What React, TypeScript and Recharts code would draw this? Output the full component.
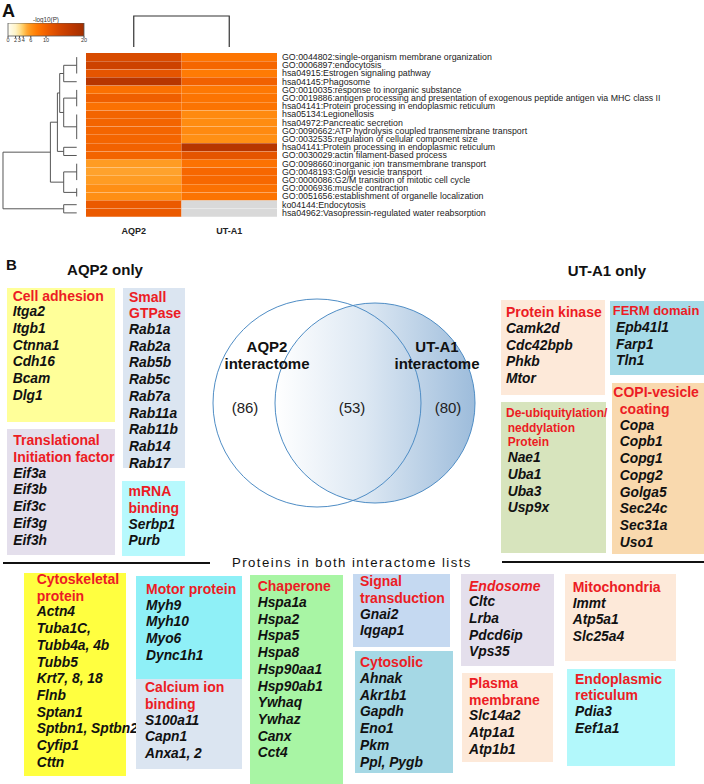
import React from "react";
import { BarChart, Bar, Cell, XAxis, YAxis, ScatterChart, Scatter } from "recharts";

const FONT = '"Liberation Sans", Arial, Helvetica, sans-serif';
const RED = "#ec1c24";

// ---- panel A: enrichment heatmap (-log10 P) ----
const terms = [
  "GO:0044802:single-organism membrane organization",
  "GO:0006897:endocytosis",
  "hsa04915:Estrogen signaling pathway",
  "hsa04145:Phagosome",
  "GO:0010035:response to inorganic substance",
  "GO:0019886:antigen processing and presentation of exogenous peptide antigen via MHC class II",
  "hsa04141:Protein processing in endoplasmic reticulum",
  "hsa05134:Legionellosis",
  "hsa04972:Pancreatic secretion",
  "GO:0090662:ATP hydrolysis coupled transmembrane transport",
  "GO:0032535:regulation of cellular component size",
  "hsa04141:Protein processing in endoplasmic reticulum",
  "GO:0030029:actin filament-based process",
  "GO:0098660:inorganic ion transmembrane transport",
  "GO:0048193:Golgi vesicle transport",
  "GO:0000086:G2/M transition of mitotic cell cycle",
  "GO:0006936:muscle contraction",
  "GO:0051656:establishment of organelle localization",
  "ko04144:Endocytosis",
  "hsa04962:Vasopressin-regulated water reabsorption",
];
const colNames = ["AQP2", "UT-A1"];
const aqp2LogP = [13, 14.5, 11.5, 17.5, 8.5, 10.2, 8.4, 9.7, 9.7, 9.6, 9.6, 9.9, 9.7, 5.6, 5.3, 5.6, 6.3, 6.3, 10.8, 10.8];
const utLogP: (number | null)[] = [8.1, 9.5, 7.6, 10, 7.8, 8.2, 8.2, 6.6, 6.5, 6.6, 6.3, 17.5, 11.5, 8.3, 9.3, 9.2, 8.4, 8.2, null, null];

const legendTicks = [0, 2, 3, 4, 6, 10, 20];
const scaleStops: [number, string][] = [
  [0, "#fffef4"], [2, "#fff3c6"], [3, "#ffe398"], [4, "#ffca60"], [5, "#ffa834"], [6, "#ff9418"],
  [7.5, "#ff7c04"], [9, "#f96a00"], [11, "#e95800"], [14, "#d04400"], [17, "#bb3700"], [20, "#a32f00"],
];

// row dendrogram: groups joined at ~0 height, then merges [node, left, right, height]
const zeroHeightGroups: Record<string, number[]> = {
  g0: [0, 1, 2], g1: [4, 5, 6], g2: [7, 8, 9, 10], g3: [13, 14, 15], g4: [16, 17],
};
const rowMerges: [string, string, string, number][] = [
  ["n1", "g0", "r3", 13],
  ["n2", "g1", "g2", 13],
  ["n3", "n1", "n2", 17],
  ["n4", "r11", "r12", 13],
  ["n5", "g3", "g4", 13],
  ["n6", "n3", "n4", 19.3],
  ["n7", "n6", "n5", 26.3],
  ["n8", "r18", "r19", 13],
  ["n9", "n7", "n8", 73.7],
];
const colMerge = { left: 0, right: 1, height: 1 };

// ---- panel B ----
const vennSets = [
  { name: "AQP2", cx: 0, cy: 0, r: 1.04 },
  { name: "UT-A1", cx: 0.58, cy: 0, r: 1.0 },
];
const vennCounts = [86, 53, 80];

const aqp2Only = [
  { title: ["Cell adhesion"], genes: ["Itga2", "Itgb1", "Ctnna1", "Cdh16", "Bcam", "Dlg1"] },
  { title: ["Small", "GTPase"], genes: ["Rab1a", "Rab2a", "Rab5b", "Rab5c", "Rab7a", "Rab11a", "Rab11b", "Rab14", "Rab17"] },
  { title: ["Translational", "Initiation factor"], genes: ["Eif3a", "Eif3b", "Eif3c", "Eif3g", "Eif3h"] },
  { title: ["mRNA", "binding"], genes: ["Serbp1", "Purb"] },
];
const utOnly = [
  { title: ["Protein kinase"], genes: ["Camk2d", "Cdc42bpb", "Phkb", "Mtor"] },
  { title: ["FERM domain"], genes: ["Epb41l1", "Farp1", "Tln1"] },
  { title: ["De-ubiquitylation/", "neddylation", "Protein"], genes: ["Nae1", "Uba1", "Uba3", "Usp9x"] },
  { title: ["COPI-vesicle", "coating"], genes: ["Copa", "Copb1", "Copg1", "Copg2", "Golga5", "Sec24c", "Sec31a", "Uso1"] },
];
const shared = [
  { title: ["Cytoskeletal", "protein"], genes: ["Actn4", "Tuba1C,", "Tubb4a, 4b", "Tubb5", "Krt7, 8, 18", "Flnb", "Sptan1", "Sptbn1, Sptbn2", "Cyfip1", "Cttn"] },
  { title: ["Motor protein"], genes: ["Myh9", "Myh10", "Myo6", "Dync1h1"] },
  { title: ["Calcium ion", "binding"], genes: ["S100a11", "Capn1", "Anxa1, 2"] },
  { title: ["Chaperone"], genes: ["Hspa1a", "Hspa2", "Hspa5", "Hspa8", "Hsp90aa1", "Hsp90ab1", "Ywhaq", "Ywhaz", "Canx", "Cct4"] },
  { title: ["Signal", "transduction"], genes: ["Gnai2", "Iqgap1"] },
  { title: ["Cytosolic"], genes: ["Ahnak", "Akr1b1", "Gapdh", "Eno1", "Pkm", "Ppl, Pygb"] },
  { title: ["Endosome"], genes: ["Cltc", "Lrba", "Pdcd6ip", "Vps35"] },
  { title: ["Plasma", "membrane"], genes: ["Slc14a2", "Atp1a1", "Atp1b1"] },
  { title: ["Mitochondria"], genes: ["Immt", "Atp5a1", "Slc25a4"] },
  { title: ["Endoplasmic", "reticulum"], genes: ["Pdia3", "Eef1a1"] },
];

type Box = { x: number; y: number; w: number; h: number; bg: string; tx: number; ty: number; hs?: number; hl?: number; indent?: number; italic?: boolean };
const boxLayout: Record<string, Box> = {
  "Cell adhesion": { x: 7, y: 288, w: 108, h: 134, bg: "#ffff99", tx: 5.7, ty: -0.4 },
  "Small": { x: 123, y: 288, w: 62, h: 180, bg: "#dbe5f1", tx: 6, ty: 0.6 },
  "Translational": { x: 7, y: 429, w: 108, h: 126, bg: "#e4dfec", tx: 6.3, ty: 3.3 },
  "mRNA": { x: 122, y: 481, w: 63, h: 75, bg: "#b7f9fd", tx: 6.5, ty: 2.3 },
  "Protein kinase": { x: 501, y: 300, w: 104, h: 95, bg: "#fde9d9", tx: 5, ty: 4.3 },
  "FERM domain": { x: 610, y: 301, w: 94, h: 74, bg: "#a6dbe8", tx: 2.7, ty: 2.3, hs: 13, indent: 3.3 },
  "De-ubiquitylation/": { x: 501, y: 402, w: 105, h: 151, bg: "#d7e4bd", tx: 5, ty: 4, hs: 12, hl: 14.7, indent: 1.7 },
  "COPI-vesicle": { x: 612, y: 383, w: 92, h: 171, bg: "#f9d9ae", tx: 1.3, ty: 1.35, indent: 6.5 },
  "Cytoskeletal": { x: 24, y: 573, w: 102, h: 203, bg: "#ffff40", tx: 12.7, ty: -2 },
  "Motor protein": { x: 136, y: 576, w: 106, h: 103, bg: "#8ff0f7", tx: 10, ty: 5 },
  "Calcium ion": { x: 136, y: 679, w: 106, h: 90, bg: "#dbe5f1", tx: 9, ty: 0.35 },
  "Chaperone": { x: 250, y: 575, w: 93, h: 215, bg: "#a8f5a4", tx: 7.7, ty: 3.35 },
  "Signal": { x: 353, y: 574, w: 97, h: 73, bg: "#c5d9f1", tx: 7, ty: -0.65 },
  "Cytosolic": { x: 355, y: 651, w: 98, h: 122, bg: "#a5d8e5", tx: 5, ty: 3.35 },
  "Endosome": { x: 461, y: 574, w: 93, h: 92, bg: "#e4dfec", tx: 8, ty: 3.65, italic: true },
  "Plasma": { x: 462, y: 673, w: 91, h: 89, bg: "#fde9d9", tx: 7, ty: 2 },
  "Mitochondria": { x: 565, y: 574, w: 111, h: 87, bg: "#fde9d9", tx: 7.7, ty: 5 },
  "Endoplasmic": { x: 567, y: 669, w: 108, h: 97, bg: "#b2f8fb", tx: 8, ty: 1.65 },
};

function hexToRgb(h: string) {
  const n = parseInt(h.slice(1), 16);
  return [(n >> 16) & 255, (n >> 8) & 255, n & 255];
}
function logPColor(v: number | null) {
  if (v == null) return "#d9d9d9";
  for (let i = 1; i < scaleStops.length; i++) {
    const [v0, c0] = scaleStops[i - 1];
    const [v1, c1] = scaleStops[i];
    if (v <= v1) {
      const t = Math.max(0, (v - v0) / (v1 - v0));
      const a = hexToRgb(c0), b = hexToRgb(c1);
      const c = a.map((x, k) => Math.round(x + (b[k] - x) * t));
      return `rgb(${c[0]},${c[1]},${c[2]})`;
    }
  }
  return scaleStops[scaleStops.length - 1][1];
}

function buildRowLinks() {
  const nodes: Record<string, { y: number; h: number }> = {};
  const get = (k: string) => (k.startsWith("r") ? { y: +k.slice(1), h: 0 } : nodes[k]);
  const links: { h: number; y: number }[][] = [];
  for (const [k, rows] of Object.entries(zeroHeightGroups)) {
    nodes[k] = { y: rows.reduce((s, r) => s + r, 0) / rows.length, h: 0 };
    links.push([{ h: 0, y: rows[0] }, { h: 0, y: rows[rows.length - 1] }]);
  }
  for (const [k, a, b, h] of rowMerges) {
    const A = get(a), B = get(b);
    links.push([{ h: A.h, y: A.y }, { h, y: A.y }, { h, y: B.y }, { h: B.h, y: B.y }]);
    nodes[k] = { y: (A.y + B.y) / 2, h };
  }
  return links;
}

const noDot = () => <g />;

function TermTick(props: any) {
  return (
    <text x={props.x} y={props.y} dy="0.34em" fontSize={8.8} fill="#222" textAnchor="start">
      {terms[props.payload.value]}
    </text>
  );
}

function GroupBox({ g }: { g: { title: string[]; genes: string[] } }) {
  const b = boxLayout[g.title[0]];
  const hs = b.hs ?? 14;
  const hl = b.hl ?? 16.7;
  return (
    <div style={{ position: "absolute", left: b.x, top: b.y, width: b.w, height: b.h, background: b.bg }}>
      <div style={{ position: "absolute", left: b.tx, top: b.ty, whiteSpace: "nowrap" }}>
        {g.title.map((t, i) => (
          <div key={"t" + i} style={{ color: RED, fontWeight: "bold", fontStyle: b.italic ? "italic" : "normal", fontSize: hs, lineHeight: hl + "px", paddingLeft: i > 0 ? b.indent ?? 0 : 0 }}>
            {t}
          </div>
        ))}
        {g.genes.map((t, i) => (
          <div key={"g" + i} style={{ color: "#111", fontWeight: "bold", fontStyle: "italic", fontSize: 13.8, lineHeight: "16.7px", paddingLeft: b.indent ?? 0 }}>
            {t}
          </div>
        ))}
      </div>
    </div>
  );
}

function Txt({ x, y, size, bold, children, w = 0, style = {} }: any) {
  return (
    <div style={{ position: "absolute", left: w ? x - w / 2 : x, top: y - size * 0.49, width: w || undefined, textAlign: w ? "center" : "left", fontSize: size, lineHeight: size + "px", fontWeight: bold ? "bold" : "normal", whiteSpace: "nowrap", color: "#111", ...style }}>
      {children}
    </div>
  );
}

export default function App() {
  const heatRows = terms.map((t, i) => ({ idx: i, term: t, aqp2: aqp2LogP[i], ut: utLogP[i], aqp2Cell: 1, utCell: 1 }));
  const rowLinks = buildRowLinks();
  const colLink = [
    { x: colMerge.left + 0.5, h: 0 }, { x: colMerge.left + 0.5, h: colMerge.height },
    { x: colMerge.right + 0.5, h: colMerge.height }, { x: colMerge.right + 0.5, h: 0 },
  ];
  const maxLogP = legendTicks[legendTicks.length - 1];

  // venn geometry (units -> px)
  const VX: [number, number] = [-1.17, 1.73];
  const VY: [number, number] = [-1.17, 1.13];
  const VW = 290, VH = 230;
  const PX = VW / (VX[1] - VX[0]);
  const vennCircles = [...vennSets].reverse().map((s, i) => ({ ...s, filled: i === 0 }));
  const labelAnchors = [{ x: -0.5, y: 0.475 }, { x: 1.2, y: 0.475 }];
  const countAnchors = [{ x: -0.72, y: -0.05 }, { x: 0.35, y: -0.05 }, { x: 1.31, y: -0.05 }];
  const vennLabels = vennSets.map((s, i) => ({ ...labelAnchors[i], lines: [s.name, "interactome"] }));
  const vennCountPts = vennCounts.map((n, i) => ({ ...countAnchors[i], n }));

  return (
    <div style={{ position: "absolute", left: 0, top: 0, width: 704, height: 784, overflow: "hidden", background: "#fff", fontFamily: FONT }}>
      <Txt x={2} y={10.5} size={18} bold>A</Txt>

      {/* colour scale */}
      <div style={{ position: "absolute", left: 26, top: 16, width: 40, textAlign: "center", fontSize: 6.3, color: "#333" }}>-log10(P)</div>
      <div style={{ position: "absolute", left: 4, top: 23 }}>
        <BarChart width={86} height={22} layout="vertical" data={[{ name: "scale", max: maxLogP }]} margin={{ top: 0, right: 6, bottom: 0, left: 4 }} barCategoryGap={0}>
          <defs>
            <linearGradient id="logpGrad" x1="0" y1="0" x2="1" y2="0">
              {scaleStops.map(([v, c]) => <stop key={v} offset={v / maxLogP} stopColor={c} />)}
            </linearGradient>
          </defs>
          <XAxis type="number" domain={[0, maxLogP]} ticks={legendTicks} interval={0} tickSize={2} tickMargin={0} height={9} axisLine={false} stroke="#444" tick={{ fontSize: 5.5, fill: "#333" }} />
          <YAxis type="category" dataKey="name" hide />
          <Bar dataKey="max" fill="url(#logpGrad)" stroke="#555" strokeWidth={0.8} isAnimationActive={false} />
        </BarChart>
      </div>

      {/* column dendrogram */}
      <div style={{ position: "absolute", left: 84, top: 14 }}>
        <ScatterChart width={195} height={35} margin={{ top: 2, right: 2, bottom: 2, left: 2 }}>
          <XAxis type="number" dataKey="x" domain={[0, 2]} hide />
          <YAxis type="number" dataKey="h" domain={[0, 1]} hide />
          <Scatter data={colLink} line={{ stroke: "#333", strokeWidth: 1.2 }} lineType="joint" shape={noDot} isAnimationActive={false} />
        </ScatterChart>
      </div>

      {/* row dendrogram */}
      <div style={{ position: "absolute", left: 1.3, top: 51 }}>
        <ScatterChart width={77.7} height={168} margin={{ top: 2, right: 2, bottom: 2, left: 2 }}>
          <XAxis type="number" dataKey="h" domain={[0, 73.7]} reversed hide />
          <YAxis type="number" dataKey="y" domain={[-0.5, 19.5]} reversed hide />
          {rowLinks.map((pts, i) => (
            <Scatter key={i} data={pts} line={{ stroke: "#555", strokeWidth: 1 }} lineType="joint" shape={noDot} isAnimationActive={false} />
          ))}
        </ScatterChart>
      </div>

      {/* heatmap */}
      <div style={{ position: "absolute", left: 86, top: 53 }}>
        <BarChart width={611} height={186} layout="vertical" data={heatRows} margin={{ top: 0, right: 0, bottom: 0, left: 0 }} barCategoryGap={0}>
          <XAxis type="number" domain={[0, 2]} ticks={[0.5, 1.5]} interval={0} tickFormatter={(v: number) => colNames[Math.floor(v)]} tickLine={false} axisLine={false} tickSize={0} tickMargin={11} height={22} tick={{ fontSize: 9, fontWeight: "bold", fill: "#222" }} />
          <YAxis type="category" dataKey="idx" orientation="right" width={420} interval={0} tickLine={false} axisLine={false} tickSize={0} tickMargin={5} tick={<TermTick />} />
          <Bar dataKey="aqp2Cell" stackId="h" isAnimationActive={false}>
            {heatRows.map((r, i) => <Cell key={i} fill={logPColor(r.aqp2)} />)}
          </Bar>
          <Bar dataKey="utCell" stackId="h" isAnimationActive={false}>
            {heatRows.map((r, i) => <Cell key={i} fill={logPColor(r.ut)} />)}
          </Bar>
        </BarChart>
      </div>

      {/* panel B */}
      <Txt x={6} y={264.5} size={15} bold>B</Txt>
      <Txt x={105} y={269} size={15} bold w={140}>AQP2 only</Txt>
      <Txt x={607} y={270.5} size={15} bold w={140}>UT-A1 only</Txt>

      {/* venn */}
      <div style={{ position: "absolute", left: 200, top: 290 }}>
        <ScatterChart width={VW} height={VH} margin={{ top: 0, right: 0, bottom: 0, left: 0 }}>
          <defs>
            <linearGradient id="vennGrad" x1="0" y1="0" x2="1" y2="0">
              <stop offset="0" stopColor="#ffffff" />
              <stop offset="0.45" stopColor="#dde8f3" />
              <stop offset="1" stopColor="#9dbcdb" />
            </linearGradient>
          </defs>
          <XAxis type="number" dataKey="x" domain={VX} hide />
          <YAxis type="number" dataKey="y" domain={VY} hide />
          <Scatter
            data={vennCircles.map((c) => ({ x: c.cx, y: c.cy, r: c.r, filled: c.filled }))}
            isAnimationActive={false}
            shape={(p: any) => (
              <circle cx={p.cx} cy={p.cy} r={p.payload.r * PX} fill={p.payload.filled ? "url(#vennGrad)" : "none"} stroke="#4f8dc5" strokeWidth={1} />
            )}
          />
          <Scatter
            data={vennLabels}
            isAnimationActive={false}
            shape={(p: any) => (
              <text x={p.cx} textAnchor="middle" fontSize={15} fontWeight="bold" fill="#111">
                <tspan x={p.cx} y={p.cy - 8.5 + 5.3}>{p.payload.lines[0]}</tspan>
                <tspan x={p.cx} y={p.cy + 8.5 + 5.3}>{p.payload.lines[1]}</tspan>
              </text>
            )}
          />
          <Scatter
            data={vennCountPts}
            isAnimationActive={false}
            shape={(p: any) => (
              <text x={p.cx} y={p.cy + 5.3} textAnchor="middle" fontSize={15} fill="#222">({p.payload.n})</text>
            )}
          />
        </ScatterChart>
      </div>

      {aqp2Only.map((g) => <GroupBox key={g.title[0]} g={g} />)}
      {utOnly.map((g) => <GroupBox key={g.title[0]} g={g} />)}

      <div style={{ position: "absolute", left: 3, top: 561.8, width: 207, height: 2.5, background: "#111" }} />
      <div style={{ position: "absolute", left: 502, top: 560.8, width: 202, height: 2.5, background: "#111" }} />
      <Txt x={232} y={562.5} size={13.2} style={{ letterSpacing: 1.45 }}>Proteins in both interactome lists</Txt>

      {shared.map((g) => <GroupBox key={g.title[0]} g={g} />)}
    </div>
  );
}
